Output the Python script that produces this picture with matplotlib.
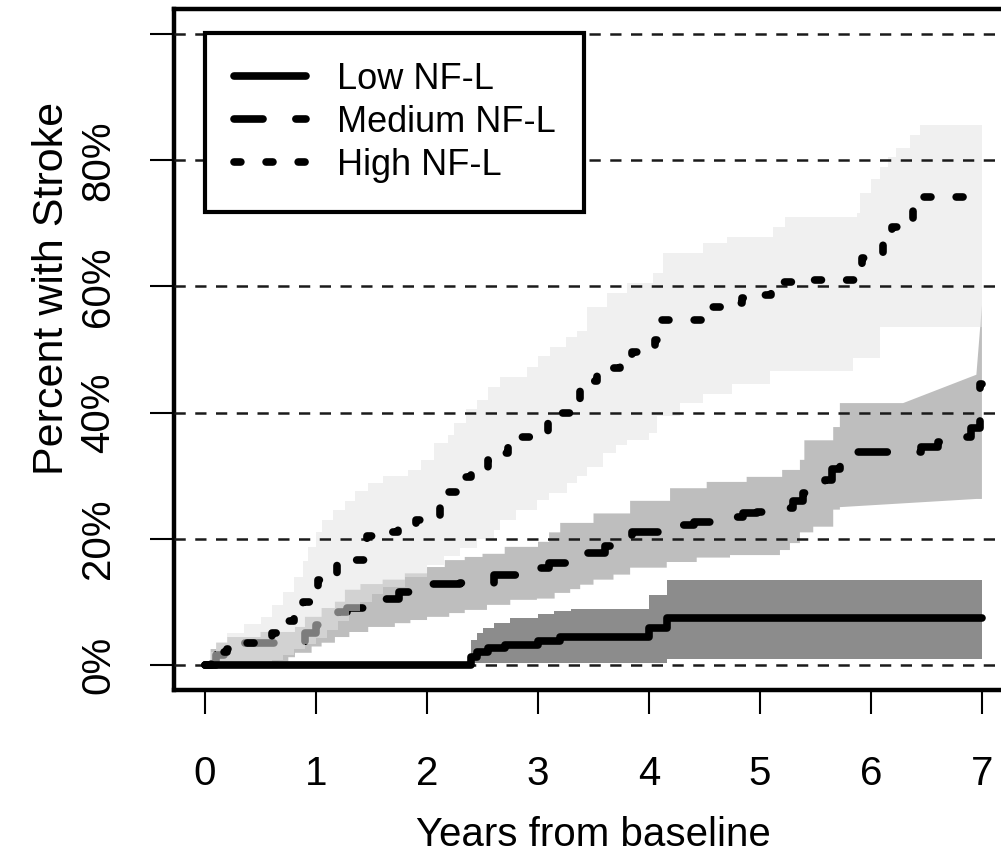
import numpy as np
import matplotlib
matplotlib.use("Agg")
import matplotlib.pyplot as plt
from matplotlib.lines import Line2D

plt.rcParams['font.family'] = ['Liberation Sans', 'DejaVu Sans']

# step curves (event time in years, cumulative percent after the event)
t_end = 7.0

low_t = [0, 2.4, 2.45, 2.55, 2.7, 3.0, 3.2, 4.0, 4.16]
low_v = [0, 1.2, 2.0, 2.7, 3.2, 3.8, 4.4, 5.9, 7.4]

med_t = [0, 0.1, 0.2, 0.3, 0.9, 1.0, 1.1, 1.2, 1.28, 1.45, 1.6, 1.75, 1.95, 2.05, 2.3,
         2.6, 2.8, 2.9, 3.1, 3.25, 3.45, 3.6, 3.75, 3.85, 4.14, 4.3, 4.41, 4.64, 4.85,
         4.97, 5.2, 5.3, 5.39, 5.59, 5.65, 5.72, 5.8, 6.45, 6.6, 6.8, 6.9, 6.98]
med_v = [0, 1.5, 2.9, 3.5, 5.0, 6.3, 7.2, 8.3, 9.0, 9.8, 10.5, 11.5, 12.5, 12.8, 13.0,
         14.3, 14.8, 15.4, 16.2, 17.3, 17.7, 18.8, 20.0, 21.0, 21.5, 22.2, 22.7, 23.5, 24.0,
         24.2, 24.9, 26.0, 27.3, 29.3, 31.0, 32.8, 33.8, 34.5, 35.3, 36.1, 37.5, 44.5]

high_t = [0, 0.05, 0.12, 0.2, 0.36, 0.6, 0.65, 0.7, 0.8, 0.88, 0.97, 1.02, 1.06, 1.19,
          1.3, 1.43, 1.46, 1.62, 1.74, 1.9, 2.0, 2.12, 2.19, 2.3, 2.4, 2.55, 2.61, 2.73,
          2.84, 3.0, 3.09, 3.2, 3.3, 3.38, 3.42, 3.53, 3.63, 3.74, 3.85, 3.99, 4.05, 4.1,
          4.57, 4.67, 4.84, 4.94, 5.1, 5.2, 5.38, 5.86, 5.92, 6.05, 6.11, 6.19, 6.28,
          6.38, 6.45]
high_v = [0, 1.0, 2.0, 2.5, 3.5, 5.0, 6.0, 7.0, 9.0, 10.0, 12.4, 13.5, 14.0, 15.8,
          16.6, 19.5, 20.5, 21.0, 22.0, 23.0, 23.8, 26.0, 27.4, 29.8, 30.6, 32.5, 33.6, 35.7,
          36.1, 37.0, 38.3, 40.0, 40.7, 43.5, 45.0, 46.4, 47.0, 48.8, 49.6, 50.2, 51.5, 54.7,
          56.7, 57.4, 58.2, 58.6, 60.0, 60.7, 61.0, 63.0, 64.5, 65.3, 66.6, 69.4, 70.8,
          73.2, 74.2]

# confidence bands
low_lo_t = [2.4, 4.16]
low_lo_v = [0.3, 0.9]
low_hi_t = [2.4, 2.45, 2.5, 2.6, 2.75, 3.0, 3.14, 3.3, 4.0, 4.16]
low_hi_v = [4.0, 5.0, 5.8, 6.6, 7.4, 8.0, 8.6, 8.9, 11.0, 13.5]

med_lo_t = [0, 0.66, 0.75, 0.81, 0.96, 1.05, 1.17, 1.3, 1.47, 1.71, 1.85, 2.0, 2.2, 2.34,
            2.54, 2.75, 2.99, 3.15, 3.29, 3.38, 3.5, 3.68, 3.83, 4.16, 4.43, 4.73, 5.18,
            5.27, 5.36, 5.48, 5.66, 5.72]
med_lo_v = [0, 0.5, 1.2, 1.9, 2.9, 3.5, 4.4, 5.2, 6.0, 6.6, 7.1, 7.6, 8.2, 8.7,
            9.5, 10.3, 10.5, 11.4, 12.0, 12.7, 13.5, 14.3, 15.4, 16.3, 17.0, 17.4, 18.2,
            19.3, 21.0, 21.9, 24.6, 25.0]
med_lo_tail_t = [5.72, 6.95, 7.0]
med_lo_tail_v = [25.0, 26.3, 26.3]
med_hi_t = [0, 0.05, 0.1, 0.2, 0.5, 0.81, 0.9, 1.05, 1.17, 1.26, 1.4, 1.6, 1.8, 2.0, 2.16,
            2.34, 2.5, 2.7, 3.0, 3.1, 3.2, 3.5, 3.83, 4.19, 4.52, 4.88, 5.2, 5.36, 5.4,
            5.66, 5.72]
med_hi_v = [0, 2.5, 3.5, 4.4, 5.2, 6.0, 7.6, 9.0, 10.0, 11.9, 12.8, 13.5, 14.5, 15.5, 16.6,
            17.1, 17.6, 18.7, 19.5, 21.0, 22.5, 24.0, 26.0, 28.0, 29.0, 29.8, 30.9, 32.5, 35.6,
            37.7, 41.5]
med_hi_tail_t = [6.29, 6.95, 7.0]
med_hi_tail_v = [41.5, 46.0, 57.0]

high_lo_t = [0, 0.6, 0.7, 0.8, 0.9, 1.0, 1.1, 1.2, 1.3, 1.4, 1.5, 1.6, 1.8, 2.0, 2.15,
             2.3, 2.45, 2.6, 2.66, 2.8, 2.99, 3.1, 3.26, 3.35, 3.44, 3.59, 3.7, 3.8, 4.0,
             4.07, 4.28, 4.49, 4.75, 5.09, 5.84, 6.08]
high_lo_v = [0, 0.8, 1.5, 2.5, 3.3, 4.2, 5.5, 7.0, 8.5, 10.0, 11.2, 12.3, 14.0, 15.8, 17.2,
             18.5, 20.0, 21.4, 23.0, 24.5, 26.1, 27.3, 28.8, 30.0, 31.4, 33.6, 34.8, 35.7, 36.8,
             39.5, 41.5, 43.0, 44.5, 46.6, 48.6, 53.5]
high_hi_t = [0, 0.05, 0.1, 0.2, 0.35, 0.5, 0.6, 0.7, 0.8, 0.88, 0.93, 1.0, 1.05, 1.15, 1.26,
             1.35, 1.47, 1.6, 1.83, 1.95, 2.06, 2.19, 2.24, 2.35, 2.45, 2.55, 2.66, 2.9, 3.0,
             3.11, 3.25, 3.35, 3.44, 3.62, 3.8, 4.04, 4.13, 4.49, 4.7, 5.12, 5.23, 5.87, 5.9,
             6.0, 6.08, 6.15, 6.23, 6.35, 6.44]
high_hi_v = [0, 2.0, 3.5, 5.0, 6.5, 7.6, 9.5, 11.5, 14.0, 16.5, 18.7, 21.0, 23.0, 24.5, 26.0,
             27.5, 28.8, 30.0, 30.9, 32.5, 35.2, 36.5, 38.4, 40.5, 42.0, 44.0, 45.6, 47.2, 49.0,
             50.4, 52.0, 53.0, 56.7, 58.9, 60.5, 62.1, 65.3, 66.9, 67.8, 69.4, 71.0, 71.6, 74.8,
             77.0, 79.0, 80.5, 82.0, 84.0, 85.6]

labels = ['Low NF-L', 'Medium NF-L', 'High NF-L']
y_ticks = [0, 20, 40, 60, 80, 100]
y_ticklabels = ['0%', '20%', '40%', '60%', '80%', '']


def stair(t, v, end):
    x = np.repeat(list(t) + [end], 2)[1:-1]
    y = np.repeat(v, 2)
    return x, y


def band_poly(lo_t, lo_v, hi_t, hi_v, lo_tail=None, hi_tail=None):
    if hi_tail:
        hx, hy = stair(hi_t, hi_v, hi_tail[0][0])
        hx = np.concatenate([hx, hi_tail[0]])
        hy = np.concatenate([hy, hi_tail[1]])
    else:
        hx, hy = stair(hi_t, hi_v, t_end)
    if lo_tail:
        lx, ly = stair(lo_t, lo_v, lo_tail[0][0])
        lx = np.concatenate([lx, lo_tail[0]])
        ly = np.concatenate([ly, lo_tail[1]])
    else:
        lx, ly = stair(lo_t, lo_v, t_end)
    return np.concatenate([hx, lx[::-1]]), np.concatenate([hy, ly[::-1]])


fig = plt.figure(figsize=(10.01, 8.56), dpi=100)
W, H = 1001, 856
ax = fig.add_axes([174 / W, (H - 690) / H, (1013 - 174) / W, (690 - 9) / H])

lw = 5.5
med_dash = (3.8, 4.3)
high_dash = (0.9, 3.3)

# medium band + line first, then the translucent high band over them
x, y = band_poly(med_lo_t, med_lo_v, med_hi_t, med_hi_v,
                 (med_lo_tail_t, med_lo_tail_v), (med_hi_tail_t, med_hi_tail_v))
ax.fill(x, y, color='#bebebe', lw=0, zorder=1)
x, y = stair(med_t, med_v, t_end)
ax.plot(x, y, color='black', lw=lw, dashes=med_dash, dash_capstyle='round',
        solid_joinstyle='round', dash_joinstyle='round', zorder=2)

x, y = band_poly(high_lo_t, high_lo_v, high_hi_t, high_hi_v)
ax.fill(x, y, color='#e4e4e4', alpha=0.55, lw=0, zorder=3)

for yv in y_ticks:
    ax.axhline(yv, color='#1a1a1a', lw=1.8, dashes=(4.5, 3.8), zorder=3.5)

x, y = stair(high_t, high_v, t_end)
ax.plot(x, y, color='black', lw=lw, dashes=high_dash, dash_capstyle='round',
        dash_joinstyle='round', zorder=4)

x, y = band_poly(low_lo_t, low_lo_v, low_hi_t, low_hi_v)
ax.fill(x, y, color='#8c8c8c', lw=0, zorder=5)
x, y = stair(low_t, low_v, t_end)
ax.plot(x, y, color='black', lw=lw, solid_capstyle='round', solid_joinstyle='round', zorder=6)

ax.set_xlim(-0.28, 7.28)
ax.set_ylim(-4, 104)
ax.set_xticks(range(8))
ax.set_yticks(y_ticks)
ax.set_yticklabels(y_ticklabels, rotation=90, va='center')
ax.tick_params(axis='both', direction='out', length=17, width=1.5, labelsize=29,
               colors='black')
ax.tick_params(axis='x', pad=30)
ax.tick_params(axis='y', pad=24)
for s in ax.spines.values():
    s.set_linewidth(3.2)

ax.set_xlabel('Years from baseline', fontsize=29)
ax.set_ylabel('Percent with Stroke', fontsize=31)
ax.xaxis.set_label_coords(0.5, -0.185)
ax.yaxis.set_label_coords(-0.122, 0.59)

handles = [
    Line2D([], [], color='black', lw=lw, solid_capstyle='round'),
    Line2D([], [], color='black', lw=lw, dashes=med_dash, dash_capstyle='round'),
    Line2D([], [], color='black', lw=lw, dashes=high_dash, dash_capstyle='round'),
]
leg = ax.legend(handles, labels, loc='upper left', bbox_to_anchor=(31 / 839, (690 - 33) / 681),
                borderaxespad=0, fontsize=26, frameon=True, fancybox=False,
                edgecolor='black', framealpha=1, handlelength=2.0, handletextpad=0.85,
                labelspacing=0.22, borderpad=0.8)
leg.get_frame().set_linewidth(3)
leg.set_zorder(10)

fig.savefig('out.png', dpi=100)
